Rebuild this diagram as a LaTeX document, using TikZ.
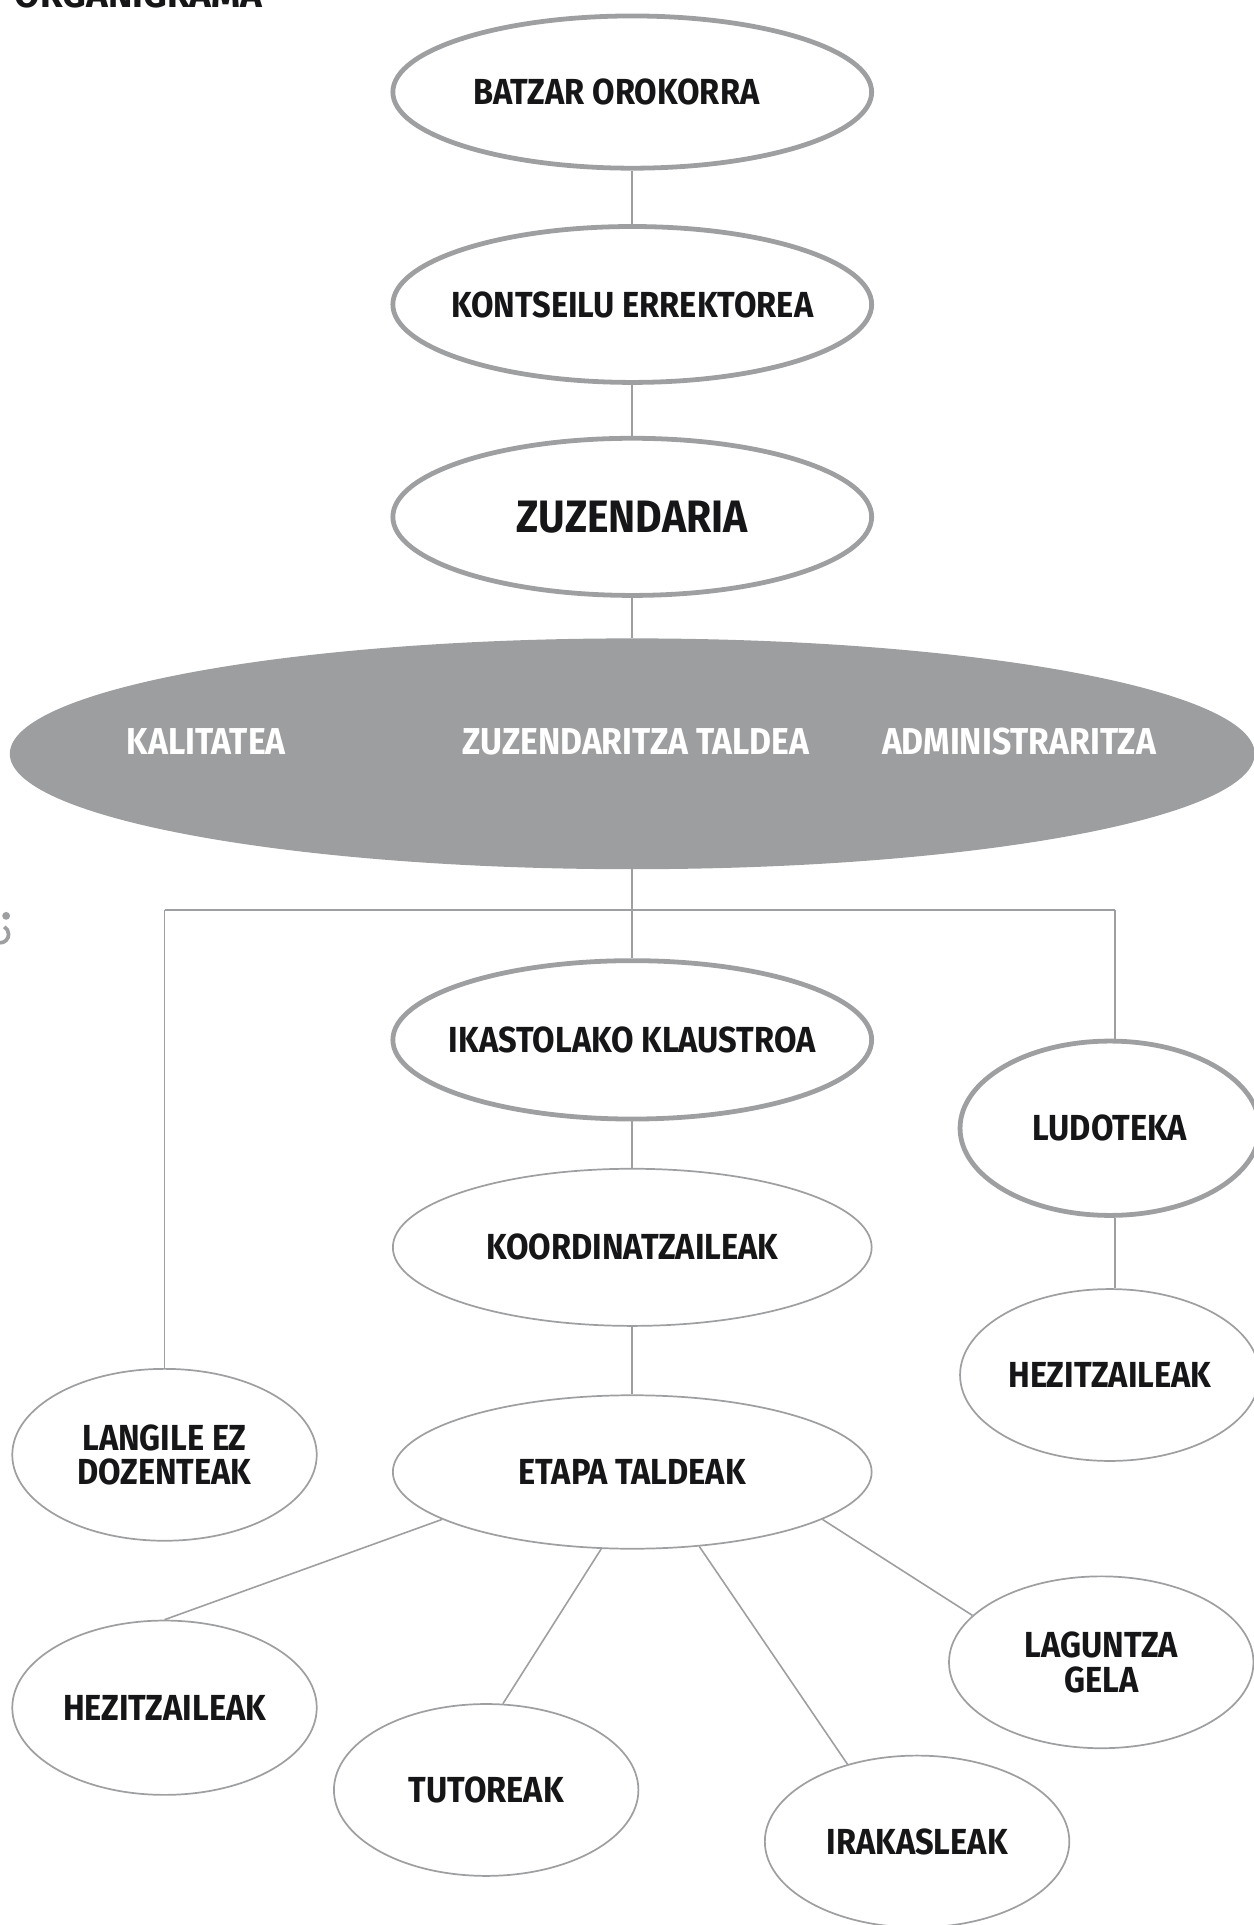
\documentclass[tikz,border=0pt]{standalone}
\usepackage{fontspec}
\usetikzlibrary{shapes.geometric}
\newfontfamily\condb{Fira Sans}[FakeStretch=0.9]
\newfontfamily\titlef{Fira Sans}
\newcommand{\zw}[1]{\makebox[0pt][c]{#1}}
\definecolor{linegray}{RGB}{158,159,161}
\definecolor{fillgray}{RGB}{157,158,160}
\definecolor{txt}{RGB}{22,22,24}
\tikzset{
  orgbase/.style={ellipse, inner sep=0pt, draw=linegray, text=txt,
    font=\condb\bfseries\fontsize{29.5}{28}\selectfont, align=center},
  thickov/.style={orgbase, line width=3.9pt},
  thinov/.style={orgbase, line width=1.4pt},
  conn/.style={draw=linegray, line width=1.3pt},
  whitelbl/.style={text=white, font=\condb\bfseries\fontsize{30.5}{30}\selectfont, inner sep=0pt}
}
\begin{document}
\begin{tikzpicture}[x=1pt,y=-1pt]
\useasboundingbox (0,0) rectangle (1021.4,1568);
% title (clipped at the top, as in the source)
\node[anchor=base west, inner sep=0pt, text=txt, font=\titlef\bfseries\fontsize{30}{30}\selectfont] (title) at (12,6) {ORGANIGRAMA};
% left-edge fragments
\fill[linegray] (5,746) circle (3.2);
\draw[linegray, line width=3pt] (0,768) arc[start angle=90, end angle=-60, radius=7];

\node[thickov, minimum width=390, minimum height=124] (batzar) at (515,75) {\zw{BATZAR OROKORRA\hspace*{26pt}}};
\node[thickov, minimum width=390, minimum height=127] (kontseilu) at (515,248) {\zw{KONTSEILU ERREKTOREA}};
\node[thickov, minimum width=390, minimum height=128, font=\condb\bfseries\fontsize{37}{37}\selectfont] (zuzen) at (515,421) {\zw{ZUZENDARIA}};
\node[ellipse, fill=fillgray, inner sep=0pt, minimum width=1014, minimum height=188] (taldea) at (515,614) {};
\node[whitelbl] (kalitatea) at (168,604) {KALITATEA};
\node[whitelbl] (ztaldea) at (518,604) {ZUZENDARITZA TALDEA};
\node[whitelbl] (admin) at (830,604) {ADMINISTRARITZA};

\node[thickov, minimum width=390, minimum height=129] (ikas) at (515,847) {\zw{IKASTOLAKO KLAUSTROA}};
\node[thickov, minimum width=244, minimum height=142] (ludo) at (904,919) {\zw{LUDOTEKA}};
\node[thinov, minimum width=390, minimum height=128] (koord) at (515,1016) {\zw{KOORDINATZAILEAK}};
\node[thinov, minimum width=244, minimum height=140] (hezR) at (904,1120) {\zw{HEZITZAILEAK}};
\node[thinov, minimum width=390, minimum height=125] (etapa) at (515,1199) {\zw{ETAPA TALDEAK}};
\node[thinov, minimum width=248, minimum height=140] (langile) at (134,1185) {LANGILE EZ\\DOZENTEAK};
\node[thinov, minimum width=248, minimum height=142] (hezL) at (134,1391) {\zw{HEZITZAILEAK}};
\node[thinov, minimum width=248, minimum height=140] (tutor) at (396,1458) {\zw{TUTOREAK}};
\node[thinov, minimum width=248, minimum height=140] (irakas) at (747,1500) {\zw{IRAKASLEAK}};
\node[thinov, minimum width=248, minimum height=140] (lagun) at (897,1354) {LAGUNTZA\\GELA};

\coordinate (jm) at (515,741);
\coordinate (jl) at (134,741);
\coordinate (jr) at (908,741);

\draw[conn] (batzar) -- (kontseilu);
\draw[conn] (kontseilu) -- (zuzen);
\draw[conn] (zuzen) -- (taldea);
\draw[conn] (taldea.south) -- (ikas.north);
\draw[conn] (jl) -- (jr);
\draw[conn] (jl) -- (langile.north);
\draw[conn] (jr) -- (jr |- ludo.north);
\draw[conn] (ikas) -- (koord);
\draw[conn] (koord) -- (etapa);
\draw[conn] (ludo.south -| jr) -- (jr |- hezR.north);
\draw[conn] (etapa.194.5) -- (hezL.north);
\draw[conn] (etapa.248) -- (tutor.79);
\draw[conn] (etapa.312) -- (irakas.132);
\draw[conn] (etapa.346) -- (lagun.160);
\end{tikzpicture}
\end{document}
